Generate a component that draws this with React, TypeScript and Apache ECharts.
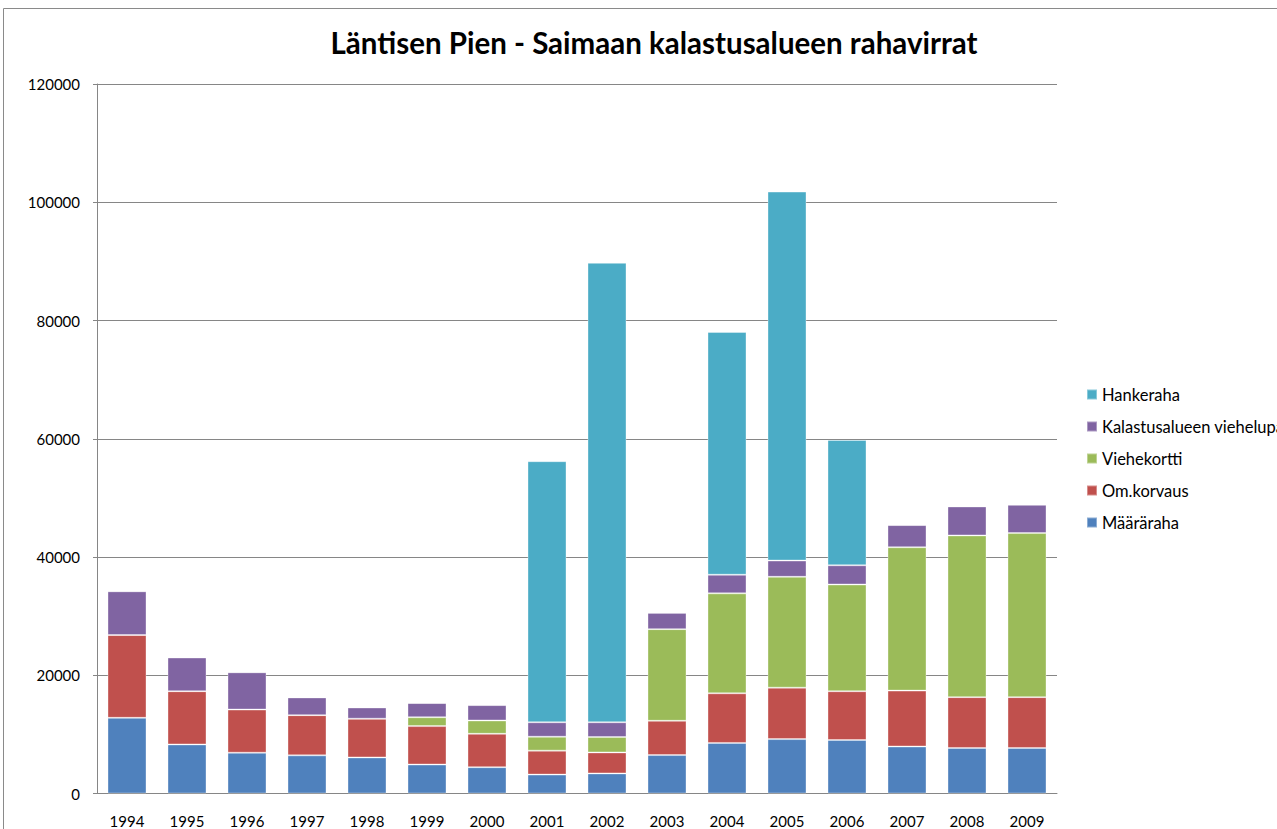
import React, { useEffect, useRef } from "react";
import * as echarts from "echarts";

const years = ["1994","1995","1996","1997","1998","1999","2000","2001","2002","2003","2004","2005","2006","2007","2008","2009"];
const maararaha = [12800, 8300, 6900, 6450, 6100, 4900, 4450, 3200, 3400, 6500, 8550, 9200, 9050, 7950, 7700, 7700];
const omKorvaus = [14000, 9000, 7300, 6800, 6550, 6500, 5650, 4050, 3550, 5800, 8400, 8700, 8250, 9450, 8600, 8600];
const viehekortti = [0, 0, 0, 0, 0, 1500, 2250, 2350, 2600, 15500, 16900, 18750, 18050, 24250, 27350, 27750];
const viehelupa = [7400, 5700, 6300, 3000, 1900, 2400, 2600, 2450, 2500, 2750, 3150, 2750, 3250, 3750, 4900, 4800];
const hankeraha = [0, 0, 0, 0, 0, 0, 0, 44150, 77700, 0, 41050, 62400, 21200, 0, 0, 0];

const seriesNames = ["Määräraha", "Om.korvaus", "Viehekortti", "Kalastusalueen viehelupa", "Hankeraha"];
const seriesData = [maararaha, omKorvaus, viehekortti, viehelupa, hankeraha];
const colors = ["#4F81BD", "#C0504D", "#9BBB59", "#8064A2", "#4BACC6"];
const legendOrder = ["Hankeraha", "Kalastusalueen viehelupa", "Viehekortti", "Om.korvaus", "Määräraha"];

const FONT = "Lato";

export default function App() {
  const ref = useRef<HTMLDivElement>(null);
  useEffect(() => {
    if (!ref.current) return;
    const chart = echarts.init(ref.current, null, { renderer: "svg" });
    chart.setOption({
      animation: false,
      backgroundColor: "#ffffff",
      title: {
        text: "Läntisen Pien - Saimaan kalastusalueen rahavirrat",
        left: 654,
        top: 27,
        textAlign: "center",
        padding: 0,
        textStyle: { fontFamily: FONT, fontWeight: "bold", fontSize: 29.5, color: "#000" },
      },
      graphic: [
        {
          type: "rect",
          shape: { x: 3.5, y: 8.5, width: 1500, height: 1000 },
          style: { fill: "none", stroke: "#8a8a8a", lineWidth: 1 },
          silent: true,
          z: -1,
        },
      ],
      legend: {
        orient: "vertical",
        left: 1086,
        top: 386,
        padding: 0,
        itemWidth: 10,
        itemHeight: 10,
        itemGap: 15,
        icon: "rect",
        data: legendOrder,
        textStyle: { fontFamily: FONT, fontSize: 16.5, color: "#000", lineHeight: 16 },
      },
      grid: { left: 97, top: 84, width: 960, height: 709.5 },
      xAxis: {
        type: "category",
        data: years,
        axisLine: { lineStyle: { color: "#868686", width: 1 } },
        axisTick: { show: false },
        axisLabel: { fontFamily: FONT, fontSize: 15, color: "#000", margin: 20 },
      },
      yAxis: {
        type: "value",
        min: 0,
        max: 120000,
        interval: 20000,
        axisLine: { show: true, lineStyle: { color: "#868686", width: 1 } },
        axisTick: { show: true, length: 4, lineStyle: { color: "#868686" } },
        axisLabel: { fontFamily: FONT, fontSize: 15, color: "#000", margin: 17, formatter: (v: number) => String(v) },
        splitLine: { lineStyle: { color: "#868686", width: 1 } },
      },
      series: seriesNames.map((name, i) => ({
        name,
        type: "bar",
        stack: "total",
        barWidth: 39,
        data: seriesData[i],
        itemStyle: { color: colors[i], borderColor: "rgba(255,255,255,0.35)", borderWidth: 1 },
      })),
    });
    return () => chart.dispose();
  }, []);
  return (
    <div style={{ position: "fixed", left: 0, top: 0, width: "100vw", height: "100vh", overflow: "hidden", background: "#fff" }}>
      <div ref={ref} style={{ position: "absolute", left: 0, top: 0, width: 1400, height: 900 }} />
    </div>
  );
}
